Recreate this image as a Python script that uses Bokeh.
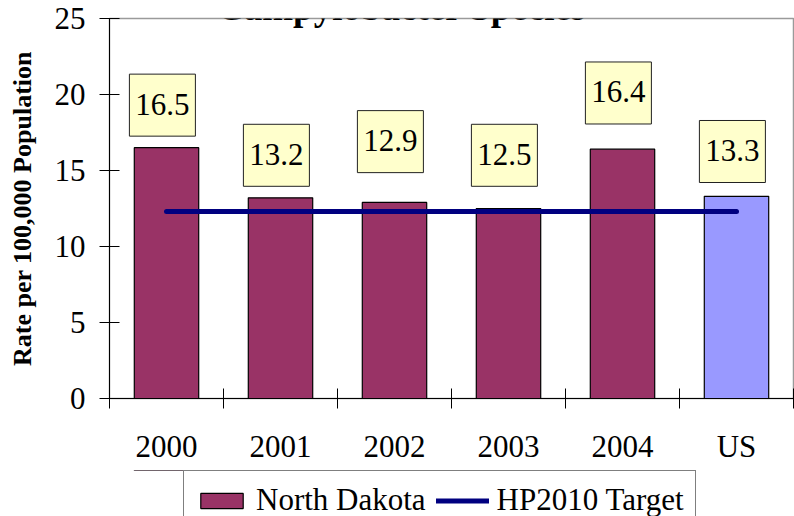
import numpy as np
from bokeh.plotting import figure
from bokeh.layouts import column
from bokeh.models import Range1d, FixedTicker, Legend, LegendItem, Label, ColumnDataSource
from bokeh.core.properties import value
from bokeh.embed import file_html
from bokeh.resources import INLINE

# ---- data ----
title_text = "Campylobacter Species"
categories = ["2000", "2001", "2002", "2003", "2004", "US"]
rates = [16.5, 13.2, 12.9, 12.5, 16.4, 13.3]
target = 12.3
y_ticks = [0, 5, 10, 15, 20, 25]
y_label = "Rate per 100,000 Population"
series_nd = "North Dakota"
series_target = "HP2010 Target"

# ---- layout only: how far each value box sits above its bar (data units) ----
label_lift = [2.8, 2.8, 4.0, 3.5, 3.7, 2.95]

FONT = "Liberation Serif"
ND_COLOR = "#993366"
US_COLOR = "#9999FF"
TARGET_COLOR = "#000080"
n = len(categories)
centers = [i + 0.5 for i in range(n)]
bounds = list(range(n + 1))
nd_idx = [i for i, c in enumerate(categories) if c != "US"]
us_idx = [i for i, c in enumerate(categories) if c == "US"]

p = figure(frame_width=684, frame_height=380,
           x_range=Range1d(0, n), y_range=Range1d(0, y_ticks[-1]),
           output_backend="svg", toolbar_location=None,
           min_border_left=109, min_border_right=1,
           min_border_top=18, min_border_bottom=72)
p.background_fill_color = "white"
p.border_fill_color = "white"
p.outline_line_color = "#9a9a9a"
p.outline_line_width = 1.5
p.xgrid.visible = False
p.ygrid.visible = False

nd_src = ColumnDataSource(dict(x=[centers[i] for i in nd_idx], top=[rates[i] for i in nd_idx]))
us_src = ColumnDataSource(dict(x=[centers[i] for i in us_idx], top=[rates[i] for i in us_idx]))
tg_src = ColumnDataSource(dict(x=[centers[0], centers[-1]], y=[target, target]))
bar_style = dict(width=0.565, line_color="black", line_width=1.2)
line_style = dict(line_color=TARGET_COLOR, line_width=5, line_cap="round")

p.vbar(x="x", top="top", bottom=0, source=nd_src, fill_color=ND_COLOR, **bar_style)
p.vbar(x="x", top="top", bottom=0, source=us_src, fill_color=US_COLOR, **bar_style)
p.line(x="x", y="y", source=tg_src, **line_style)

lab_src = ColumnDataSource(dict(
    x=[c - 0.036 for c in centers],
    y=[r + l for r, l in zip(rates, label_lift)],
    text=[f"{r:.1f}" for r in rates]))
p.rect(x="x", y="y", width=0.579, height=4.08, source=lab_src,
       fill_color="#FFFFCC", line_color="#222222", line_width=1)
p.text(x="x", y="y", text="text", source=lab_src,
       text_font=value(FONT), text_font_size="31px",
       text_align="center", text_baseline="middle", text_color="black", y_offset=-1)

# x axis: ticks at category boundaries, labels at centres
xa = p.xaxis[0]
xa.ticker = FixedTicker(ticks=centers, minor_ticks=bounds)
xa.major_label_overrides = {c: lab for c, lab in zip(centers, categories)}
xa.major_tick_in = 0
xa.major_tick_out = 0
xa.minor_tick_in = 10
xa.minor_tick_out = 10
xa.minor_tick_line_color = "black"
xa.axis_line_color = "black"
xa.major_label_standoff = 20
xa.major_label_text_font = FONT
xa.major_label_text_font_size = "31px"
xa.major_label_text_color = "black"

ya = p.yaxis[0]
ya.ticker = FixedTicker(ticks=y_ticks, minor_ticks=[])
ya.major_tick_in = 10
ya.major_tick_out = 10
ya.minor_tick_line_color = None
ya.axis_line_color = "black"
ya.major_tick_line_color = "black"
ya.major_label_standoff = 14
ya.major_label_text_font = FONT
ya.major_label_text_font_size = "31px"
ya.major_label_text_color = "black"
ya.axis_label = y_label
ya.axis_label_text_font = FONT
ya.axis_label_text_font_size = "26px"
ya.axis_label_text_font_style = "bold"
ya.axis_label_text_color = "black"
ya.axis_label_standoff = 15

p.add_layout(Label(x=292, y=391, x_units="screen", y_units="screen", text=title_text,
                   text_font=FONT, text_font_size="37px", text_font_style="bold",
                   text_align="center", text_baseline="alphabetic", text_color="black"))

# ---- legend strip (cut off at the bottom edge like the reference) ----
# same series drawn here only to feed the legend; the y range keeps them out of view
q = figure(frame_width=684, frame_height=46,
           x_range=Range1d(0, n), y_range=Range1d(-10, -9),
           output_backend="svg", toolbar_location=None,
           x_axis_location=None, y_axis_location=None,
           min_border_left=109, min_border_right=1, min_border_top=0, min_border_bottom=0)
q.outline_line_color = None
q.grid.visible = False
q.background_fill_color = "white"
q.border_fill_color = "white"
leg_nd = q.vbar(x="x", top="top", bottom=0, source=nd_src, fill_color=ND_COLOR, **bar_style)
leg_t = q.line(x="x", y="y", source=tg_src, **line_style)
legend = Legend(items=[LegendItem(label=series_nd, renderers=[leg_nd]),
                       LegendItem(label=series_target, renderers=[leg_t])],
                location=(74, -14), orientation="horizontal",
                padding=11, spacing=10, glyph_width=53, glyph_height=19,
                label_standoff=8, label_text_font=FONT, label_text_font_size="31px",
                label_text_color="black",
                border_line_color="black", border_line_width=1,
                background_fill_color="white", background_fill_alpha=1, margin=0)
q.add_layout(legend, "center")

layout = column(p, q, spacing=0)
open("out.html", "w").write(file_html(layout, INLINE))
